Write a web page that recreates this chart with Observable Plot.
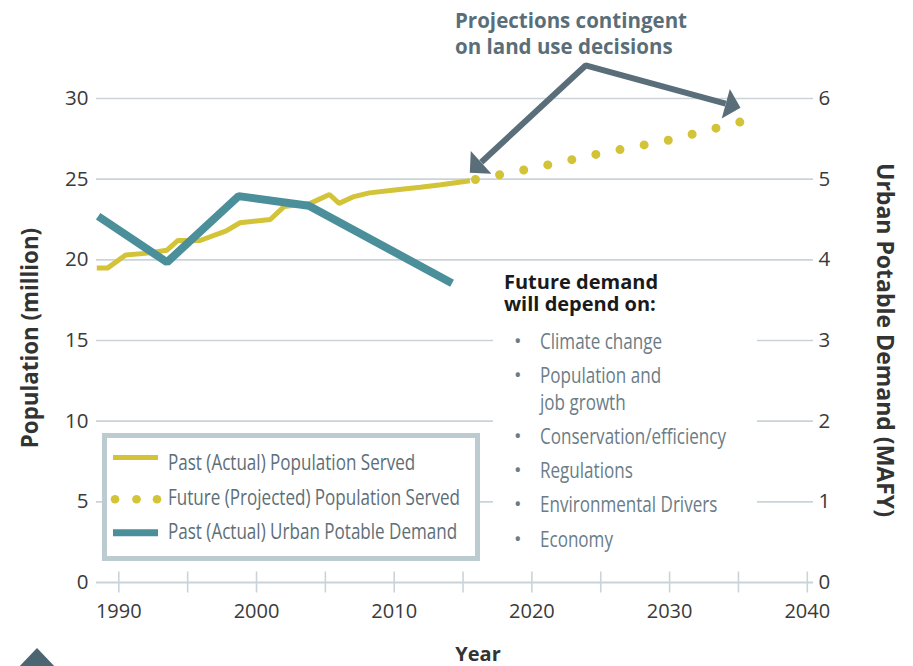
<!DOCTYPE html>
<html>
<head>
<meta charset="utf-8">
<script src="https://cdn.jsdelivr.net/npm/d3@7"></script>
<script src="https://cdn.jsdelivr.net/npm/@observablehq/plot@0.6"></script>
<style>
  html, body { margin: 0; padding: 0; background: #ffffff; }
  #wrap { position: relative; width: 913px; height: 666px; overflow: hidden; font-family: "Open Sans", "Noto Sans", sans-serif; }
  #chart { position: absolute; left: 0; top: 0; }
  .abs { position: absolute; white-space: nowrap; }
  .title { font-weight: 700; color: #333333; font-size: 20px; line-height: 26px; }
  .rot { transform: translate(-50%, -50%) rotate(-90deg); }
  .rotr { transform: translate(-50%, -50%) rotate(90deg); }
  .ctr { transform: translate(-50%, -50%); }
  .note { font-weight: 700; color: #5a6e79; font-size: 20.5px; line-height: 26px; }
  .cond { display: inline-block; transform: scaleX(0.775); transform-origin: 0 50%; white-space: pre; }
  .item { font-size: 22px; line-height: 27px; color: #6a7c86; }
  .leg { font-size: 22px; line-height: 27px; color: #5d6e77; }
</style>
</head>
<body>
<div id="wrap"><div id="chart"></div></div>
<script>
// ---------------- data ----------------
const popYears  = [1988.4, 1989.2, 1990.5, 1991.9, 1993.5, 1994.3, 1995.9, 1997.8, 1998.8, 2001.0, 2002.0, 2003.9, 2005.3, 2006.0, 2007.0, 2008.2, 2010.2, 2011.9, 2013.4, 2015.5];
const popValues = [19.5, 19.5, 20.3, 20.4, 20.6, 21.2, 21.2, 21.8, 22.3, 22.5, 23.3, 23.5, 24.05, 23.5, 23.9, 24.15, 24.35, 24.5, 24.65, 24.9];

const projYears  = [2015.9, 2020, 2025, 2030, 2035.15];
const projValues = [24.98, 25.67, 26.6, 27.43, 28.55];

const demandYears  = [1988.5, 1993.5, 1998.7, 2003.8, 2014.2];
const demandValues = [4.54, 3.97, 4.79, 4.67, 3.71];   // MAFY

const yearTicks  = [1990, 1995, 2000, 2005, 2010, 2015, 2020, 2025, 2030, 2035, 2040];
const yearLabels = [1990, 2000, 2010, 2020, 2030, 2040];
const popTicks   = [0, 5, 10, 15, 20, 25, 30];
const mafyPerMillion = 6 / 30;

// annotation arrows (data space): shaft and heads
const shaftYears  = [2016.32, 2023.9, 2034.07];
const shaftValues = [26.05, 32.05, 29.68];
const headYears   = [2015.49, 2035.15];
const headValues  = [25.4, 29.43];
const headAngles  = [227.6, 105.4];

// texts
const yTitleLeft  = "Population (million)";
const yTitleRight = "Urban Potable Demand (MAFY)";
const xTitle      = "Year";
const noteLines   = ["Projections contingent", "on land use decisions"];
const factorHead  = ["Future demand", "will depend on:"];
const factors     = ["Climate change", "Population and\njob growth", "Conservation/efficiency", "Regulations", "Environmental Drivers", "Economy"];
const legendLabels = ["Past (Actual) Population Served", "Future (Projected) Population Served", "Past (Actual) Urban Potable Demand"];

// colours
const YELLOW = "#d3c338";
const TEAL   = "#4a8f9a";
const SLATE  = "#5a6e79";
const GRID   = "#cad4d8";

// --------------- tables ---------------
const popData    = popYears.map((year, i) => ({year, value: popValues[i]}));
const projData   = projYears.map((year, i) => ({year, value: projValues[i]}));
const demandData = demandYears.map((year, i) => ({year, value: demandValues[i]}));
const shaftData  = shaftYears.map((year, i) => ({year, value: shaftValues[i]}));
const headData   = headYears.map((year, i) => ({year, value: headValues[i], angle: headAngles[i]}));

const arrowHead = {
  draw(context) {
    const h = 15.3;
    context.moveTo(0, 0);
    context.lineTo(h, h);
    context.lineTo(-h, h);
    context.closePath();
  }
};

const chart = Plot.plot({
  width: 913,
  height: 666,
  marginTop: 98,
  marginBottom: 84,
  marginLeft: 96,
  marginRight: 100,
  x: {domain: [1988.38, 2040.45], label: null},
  y: {domain: [0, 30], label: null},
  style: {fontFamily: '"Open Sans", "Noto Sans", sans-serif', background: "transparent", overflow: "visible"},
  marks: [
    Plot.ruleY(popTicks.filter(d => d > 0), {y: d => d, stroke: GRID, strokeWidth: 1.6}),
    Plot.ruleY([0], {y: d => d, stroke: GRID, strokeWidth: 2}),
    Plot.ruleX(yearTicks, {x: d => d, y1: -0.65, y2: 0.65, stroke: GRID, strokeWidth: 1.6}),
    Plot.axisX(yearLabels, {tickSize: 0, tickPadding: 21, fontSize: 20, fill: "#3a3a3a", tickFormat: d => String(d)}),
    Plot.axisY(popTicks, {anchor: "left", tickSize: 0, tickPadding: 8, fontSize: 20.5, fill: "#3a3a3a", label: null}),
    Plot.axisY(popTicks, {anchor: "right", tickSize: 0, tickPadding: 5, fontSize: 20.5, fill: "#3a3a3a", label: null, tickFormat: d => String(Math.round(d * mafyPerMillion))}),
    Plot.line(popData, {x: "year", y: "value", stroke: YELLOW, strokeWidth: 5, strokeLinecap: "butt", strokeLinejoin: "miter"}),
    Plot.line(projData, {x: "year", y: "value", stroke: YELLOW, strokeWidth: 9, strokeLinecap: "round", strokeDasharray: "0 24.6"}),
    Plot.line(demandData, {x: "year", y: d => d.value / mafyPerMillion, stroke: TEAL, strokeWidth: 8, strokeLinecap: "butt", strokeLinejoin: "miter"}),
    Plot.line(shaftData, {x: "year", y: "value", stroke: SLATE, strokeWidth: 6, strokeLinecap: "butt", strokeLinejoin: "miter"}),
    Plot.dot(headData, {x: "year", y: "value", rotate: "angle", symbol: arrowHead, fill: SLATE, stroke: "none"})
  ]
});

const wrap = document.getElementById("wrap");
document.getElementById("chart").appendChild(chart);

function addDiv(cls, html, left, top, extra) {
  const d = document.createElement("div");
  d.className = "abs " + cls;
  d.innerHTML = html;
  d.style.left = left + "px";
  d.style.top = top + "px";
  if (extra) Object.assign(d.style, extra);
  wrap.appendChild(d);
  return d;
}

// axis titles
addDiv("title rot", yTitleLeft, 30, 338, {fontSize: "22.3px"});
addDiv("title rotr", yTitleRight, 886, 340, {fontSize: "23px"});
addDiv("title ctr", xTitle, 478, 654);

// annotation
addDiv("note", noteLines[0], 455, 7);
addDiv("note", noteLines[1], 455, 33);

// factors box (white backdrop)
addDiv("", "", 493, 262, {width: "264px", height: "296px", background: "#ffffff"});
factorHead.forEach((t, i) => {
  addDiv("title", t, 504, 271 + i * 22, {color: "#1a1a1a", lineHeight: "22px"});
});
const itemCenters = [340, 374, 435, 469, 503, 538];
factors.forEach((t, i) => {
  addDiv("item", "•", 514, itemCenters[i] - 13.5, {fontSize: "20px"});
  addDiv("item", '<span class="cond">' + t + '</span>', 540, itemCenters[i] - 13.5);
});

// legend
addDiv("", "", 101.7, 433.3, {width: "378.3px", height: "127.7px", border: "5px solid #bccbcf", boxSizing: "border-box", background: "#ffffff"});
const legendCenters = [461.8, 496.5, 530];
legendLabels.forEach((t, i) => {
  addDiv("leg", '<span class="cond">' + t + '</span>', 167.5, legendCenters[i] - 13.5);
});
const sw = d3.select(wrap).append("svg")
  .attr("width", 913).attr("height", 666)
  .style("position", "absolute").style("left", 0).style("top", 0).style("pointer-events", "none");
sw.append("line").attr("x1", 113).attr("x2", 158).attr("y1", 457.5).attr("y2", 457.5).attr("stroke", YELLOW).attr("stroke-width", 5);
[115, 136.5, 157].forEach(x => sw.append("circle").attr("cx", x).attr("cy", 499.3).attr("r", 4.3).attr("fill", YELLOW));
sw.append("line").attr("x1", 113).attr("x2", 158).attr("y1", 532.7).attr("y2", 532.7).attr("stroke", TEAL).attr("stroke-width", 7);

// corner decoration
addDiv("", "", 16, 648, {width: "0", height: "0", borderLeft: "21px solid transparent", borderRight: "21px solid transparent", borderBottom: "22px solid #4b6670"});
</script>
</body>
</html>
